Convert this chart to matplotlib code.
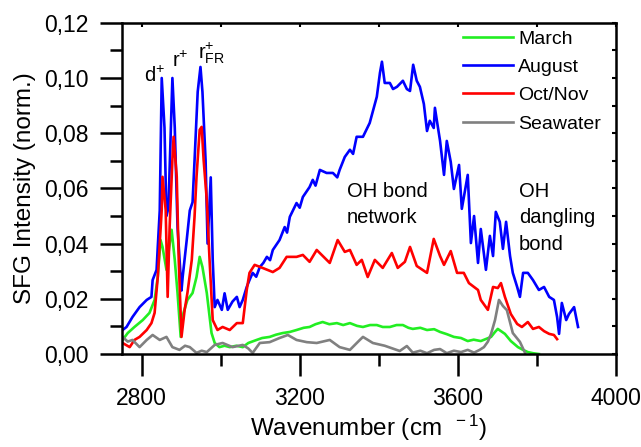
import numpy as np
import matplotlib
matplotlib.use("Agg")
import matplotlib.pyplot as plt
from matplotlib.ticker import MultipleLocator, FixedLocator, FuncFormatter

plt.rcParams['font.family'] = ['Liberation Sans', 'DejaVu Sans']
plt.rcParams['mathtext.fontset'] = 'custom'
plt.rcParams['mathtext.rm'] = 'Liberation Sans'
plt.rcParams['mathtext.it'] = 'Liberation Sans'
plt.rcParams['mathtext.bf'] = 'Liberation Sans'

# ---- data ----
march_wn = [2752, 2765, 2782, 2803, 2820, 2833, 2841, 2848, 2853, 2863, 2868, 2876,
            2884, 2891, 2899, 2906, 2916, 2929, 2939, 2947, 2954, 2965, 2977, 2985,
            2997, 3010, 3023, 3040, 3056, 3070, 3091, 3105, 3124, 3140, 3157, 3175,
            3192, 3210, 3225, 3240, 3258, 3275, 3294, 3310, 3327, 3345, 3360, 3378,
            3395, 3410, 3428, 3445, 3461, 3475, 3486, 3505, 3522, 3540, 3555, 3572,
            3590, 3608, 3625, 3640, 3658, 3672, 3684, 3694, 3701, 3710, 3719, 3734,
            3752, 3765, 3777, 3790, 3805]
march = [0.0051, 0.0076, 0.0098, 0.0123, 0.0149, 0.0196, 0.0279, 0.0413, 0.0388, 0.0305,
         0.0366, 0.0450, 0.0341, 0.0221, 0.0062, 0.0149, 0.0196, 0.0221, 0.0279, 0.0352,
         0.0315, 0.0221, 0.0076, 0.0040, 0.0025, 0.0030, 0.0025, 0.0030, 0.0025, 0.0040,
         0.0051, 0.0058, 0.0062, 0.0070, 0.0076, 0.0080, 0.0087, 0.0095, 0.0098, 0.0108,
         0.0116, 0.0108, 0.0112, 0.0105, 0.0112, 0.0102, 0.0098, 0.0105, 0.0105, 0.0098,
         0.0098, 0.0105, 0.0105, 0.0095, 0.0091, 0.0095, 0.0087, 0.0090, 0.0080, 0.0072,
         0.0062, 0.0058, 0.0047, 0.0052, 0.0047, 0.0055, 0.0062, 0.0080, 0.0091, 0.0082,
         0.0073, 0.0047, 0.0025, 0.0015, 0.0007, 0.0003, 0.0000]

august_wn = [2752, 2762, 2777, 2795, 2813, 2825, 2828, 2838, 2841, 2846, 2851, 2858,
             2863, 2868, 2878, 2884, 2891, 2901, 2904, 2914, 2922, 2929, 2934, 2942,
             2949, 2954, 2962, 2967, 2975, 2980, 2985, 2992, 3003, 3010, 3018, 3030,
             3041, 3048, 3056, 3066, 3073, 3081, 3090, 3099, 3108, 3117, 3125, 3132,
             3149, 3162, 3168, 3175, 3192, 3200, 3208, 3225, 3233, 3240, 3251, 3268,
             3284, 3295, 3301, 3314, 3327, 3335, 3344, 3360, 3377, 3395, 3403, 3408,
             3415, 3428, 3436, 3446, 3461, 3471, 3479, 3487, 3496, 3504, 3514, 3522,
             3529, 3539, 3542, 3547, 3555, 3565, 3572, 3582, 3590, 3603, 3610, 3625,
             3633, 3641, 3651, 3658, 3671, 3681, 3689, 3696, 3706, 3714, 3722, 3732,
             3739, 3750, 3757, 3765, 3777, 3790, 3805, 3818, 3831, 3843, 3851, 3856,
             3863, 3874, 3881, 3894, 3904]
august = [0.0087, 0.0098, 0.0134, 0.0170, 0.0196, 0.0207, 0.0268, 0.0305, 0.0388, 0.0520,
          0.1000, 0.0820, 0.0500, 0.0530, 0.1000, 0.0820, 0.0460, 0.0230, 0.0280, 0.0410,
          0.0520, 0.0550, 0.0700, 0.0950, 0.1040, 0.0950, 0.0700, 0.0400, 0.0640, 0.0340,
          0.0170, 0.0196, 0.0160, 0.0220, 0.0160, 0.0190, 0.0207, 0.0170, 0.0196, 0.0243,
          0.0268, 0.0294, 0.0280, 0.0315, 0.0330, 0.0352, 0.0340, 0.0377, 0.0413, 0.0460,
          0.0440, 0.0497, 0.0547, 0.0530, 0.0569, 0.0605, 0.0631, 0.0610, 0.0667, 0.0656,
          0.0656, 0.0640, 0.0667, 0.0714, 0.0740, 0.0725, 0.0787, 0.0787, 0.0837, 0.0932,
          0.1019, 0.1059, 0.0982, 0.0982, 0.0960, 0.0968, 0.0990, 0.0960, 0.0953, 0.1048,
          0.0990, 0.0968, 0.0906, 0.0808, 0.0845, 0.0819, 0.0892, 0.0845, 0.0772, 0.0649,
          0.0772, 0.0696, 0.0598, 0.0685, 0.0526, 0.0649, 0.0402, 0.0500, 0.0330, 0.0453,
          0.0305, 0.0428, 0.0355, 0.0515, 0.0479, 0.0381, 0.0479, 0.0355, 0.0294, 0.0243,
          0.0207, 0.0294, 0.0294, 0.0268, 0.0232, 0.0243, 0.0207, 0.0196, 0.0134, 0.0073,
          0.0185, 0.0123, 0.0145, 0.0170, 0.0098]

octnov_wn = [2752, 2770, 2782, 2795, 2813, 2825, 2833, 2841, 2851, 2853, 2861, 2866,
             2871, 2878, 2881, 2889, 2894, 2901, 2909, 2916, 2927, 2934, 2939, 2947,
             2952, 2957, 2965, 2972, 2980, 2992, 3005, 3023, 3041, 3056, 3066, 3073,
             3086, 3106, 3132, 3149, 3167, 3192, 3208, 3225, 3243, 3276, 3296, 3314,
             3327, 3344, 3357, 3372, 3390, 3410, 3433, 3448, 3466, 3479, 3496, 3522,
             3539, 3555, 3565, 3582, 3598, 3615, 3628, 3651, 3658, 3676, 3689, 3701,
             3709, 3719, 3734, 3750, 3762, 3777, 3790, 3805, 3818, 3831, 3843, 3851]
octnov = [0.0040, 0.0025, 0.0051, 0.0062, 0.0087, 0.0112, 0.0149, 0.0279, 0.0522, 0.0642,
          0.0522, 0.0207, 0.0460, 0.0703, 0.0787, 0.0642, 0.0341, 0.0062, 0.0160, 0.0221,
          0.0341, 0.0497, 0.0642, 0.0812, 0.0823, 0.0703, 0.0558, 0.0341, 0.0123, 0.0087,
          0.0098, 0.0087, 0.0112, 0.0112, 0.0232, 0.0294, 0.0323, 0.0312, 0.0297, 0.0312,
          0.0352, 0.0352, 0.0359, 0.0334, 0.0377, 0.0330, 0.0413, 0.0370, 0.0377, 0.0323,
          0.0341, 0.0279, 0.0341, 0.0312, 0.0366, 0.0312, 0.0334, 0.0388, 0.0319, 0.0294,
          0.0417, 0.0355, 0.0323, 0.0373, 0.0294, 0.0294, 0.0257, 0.0232, 0.0196, 0.0160,
          0.0243, 0.0239, 0.0257, 0.0207, 0.0145, 0.0109, 0.0098, 0.0116, 0.0091, 0.0098,
          0.0083, 0.0073, 0.0069, 0.0054]

sea_wn = [2752, 2765, 2777, 2795, 2813, 2828, 2846, 2863, 2878, 2896, 2910, 2922,
          2939, 2952, 2965, 2985, 3005, 3030, 3056, 3070, 3081, 3099, 3124, 3149,
          3170, 3192, 3218, 3243, 3276, 3301, 3327, 3352, 3360, 3385, 3415, 3435,
          3453, 3471, 3486, 3505, 3522, 3540, 3555, 3572, 3590, 3608, 3625, 3641,
          3655, 3666, 3676, 3684, 3694, 3704, 3714, 3724, 3739, 3757, 3770]
sea = [0.0062, 0.0045, 0.0051, 0.0025, 0.0051, 0.0069, 0.0051, 0.0062, 0.0025, 0.0015,
       0.0030, 0.0025, 0.0004, 0.0012, 0.0007, 0.0033, 0.0040, 0.0025, 0.0033, 0.0020,
       0.0004, 0.0040, 0.0043, 0.0058, 0.0069, 0.0051, 0.0043, 0.0040, 0.0051, 0.0025,
       0.0015, 0.0051, 0.0062, 0.0040, 0.0030, 0.0020, 0.0011, 0.0029, 0.0005, 0.0012,
       0.0003, 0.0015, 0.0018, 0.0003, 0.0012, 0.0007, 0.0015, 0.0005, 0.0015, 0.0025,
       0.0045, 0.0073, 0.0123, 0.0196, 0.0174, 0.0159, 0.0076, 0.0044, 0.0004]

series = [
    ("March", march_wn, march, "#22ee22"),
    ("August", august_wn, august, "#0000ff"),
    ("Oct/Nov", octnov_wn, octnov, "#ff0000"),
    ("Seawater", sea_wn, sea, "#808080"),
]

fig = plt.figure(figsize=(6.41, 4.47), dpi=100)
ax = fig.add_axes([0.190, 0.208, 0.771, 0.741])

for name, wn, val, col in series:
    ax.plot(wn, val, color=col, lw=1.9, label=name)

ax.set_xlim(2750, 4000)
ax.set_ylim(0, 0.12)

ax.xaxis.set_major_locator(FixedLocator([2800, 3200, 3600, 4000]))
ax.xaxis.set_minor_locator(FixedLocator([3000, 3400, 3800]))
ax.yaxis.set_major_locator(MultipleLocator(0.02))
ax.yaxis.set_minor_locator(MultipleLocator(0.01))
ax.yaxis.set_major_formatter(FuncFormatter(lambda v, p: ("%.2f" % v).replace(".", ",")))

ax.tick_params(which='major', direction='out', length=16, width=1.8, labelsize=16.5, pad=8)
ax.tick_params(which='minor', direction='out', length=8.5, width=1.8)
for sp in ax.spines.values():
    sp.set_linewidth(1.8)

# small inward ticks on top and right
top = ax.secondary_xaxis('top')
top.xaxis.set_major_locator(MultipleLocator(200))
top.tick_params(direction='in', length=3, width=1.5, labeltop=False)
right = ax.secondary_yaxis('right')
right.yaxis.set_major_locator(MultipleLocator(0.01))
right.tick_params(direction='in', length=3, width=1.5, labelright=False)

ax.set_xlabel(r'Wavenumber (cm $^{\mathrm{\ -1}}$)', fontsize=17.5, labelpad=2)
ax.set_ylabel('SFG Intensity (norm.)', fontsize=17.5, labelpad=6)

ax.legend(loc='upper left', bbox_to_anchor=(0.682, 0.99), frameon=False, fontsize=14,
          handlelength=2.6, handletextpad=0.25, labelspacing=0.55, borderpad=0.2,
          borderaxespad=0)

ax.text(2805, 0.0985, r'd$^{+}$', fontsize=14.5)
ax.text(2876, 0.1040, r'r$^{+}$', fontsize=14.5)
ax.text(2943, 0.1070, r'r$^{+}_{\mathrm{FR}}$', fontsize=14.5)
ax.text(3319, 0.0625, 'OH bond\nnetwork', fontsize=14.5, linespacing=1.5, va='top')
ax.text(3755, 0.0625, 'OH\ndangling\nbond', fontsize=14.5, linespacing=1.5, va='top')

fig.savefig('out.png', dpi=100)
